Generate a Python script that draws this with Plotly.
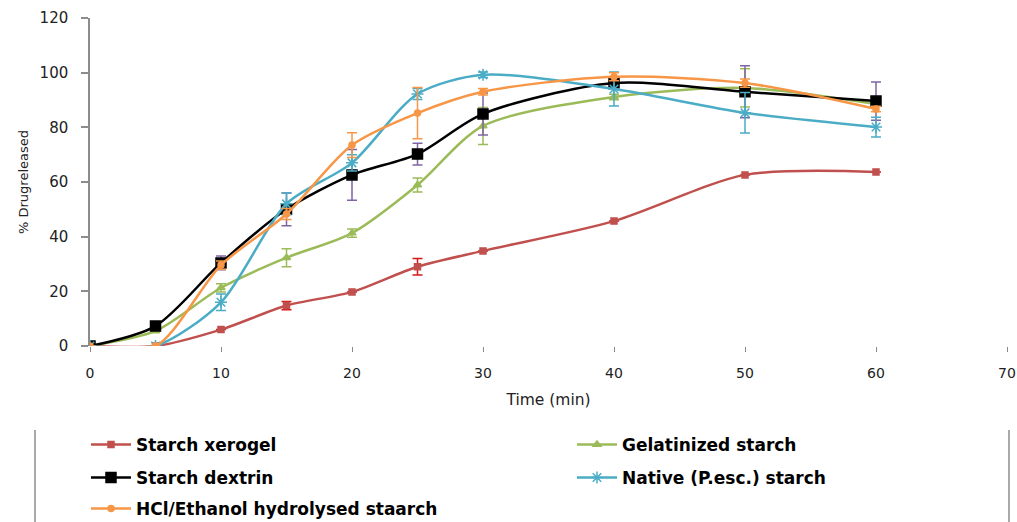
import plotly.graph_objects as go

times = [0, 5, 10, 15, 20, 25, 30, 40, 50, 60]

series_names = ["Starch xerogel", "Gelatinized starch", "Starch dextrin",
                "Native (P.esc.) starch", "HCl/Ethanol hydrolysed staarch"]

xerogel = [0, 0, 6, 14.8, 19.8, 29, 34.8, 45.7, 62.6, 63.7]
xerogel_err = [0, 0, 0, 1.5, 0, 3, 0, 0, 0, 0]

gelatinized = [0, 5.5, 21.3, 32.3, 41.3, 58.9, 80.5, 91.1, 94.4, 88.5]
gelatinized_err = [0, 0, 1.5, 3.3, 1.5, 2.6, 6.8, 1, 7, 0]

dextrin = [0, 7.3, 30.4, 50, 62.6, 70.2, 84.9, 96.2, 93, 89.6]
dextrin_err = [0, 0, 2.5, 6, 9.3, 4, 7.7, 1, 9.5, 7]

native = [0, 0, 16, 52, 67, 92.2, 99.2, 94, 85.3, 80.1]
native_err = [0, 0, 3, 4, 3, 2, 1, 6.2, 7.4, 3.6]

hcl = [0, 0, 29.6, 48.3, 73.5, 85.2, 93, 98.5, 96.2, 86.7]
hcl_err = [0, 0, 1.5, 2, 4.5, 9.4, 1.2, 1.5, 1.5, 1]

x_ticks = [0, 10, 20, 30, 40, 50, 60, 70]
y_ticks = [0, 20, 40, 60, 80, 100, 120]

styles = [
    dict(color="#C0504D", err="#D81818", symbol="square", size=6),
    dict(color="#9BBB59", err="#9BBB59", symbol="triangle-up", size=7),
    dict(color="#000000", err="#8064A2", symbol="square", size=10),
    dict(color="#4BACC6", err="#4BACC6", symbol="asterisk-open", size=10),
    dict(color="#F79646", err="#F79646", symbol="circle", size=6),
]
values = [xerogel, gelatinized, dextrin, native, hcl]
errors = [xerogel_err, gelatinized_err, dextrin_err, native_err, hcl_err]

# body margin is removed by post_script, so figure pixels == page pixels
W, H = 1017, 522
ml, mt = 90, 18
pw, ph = 917, 328
mr = W - ml - pw
mb = H - mt - ph


def px_to_paper_x(px):
    return (px - ml) / pw


def px_to_paper_y(py):
    return (mt + ph - py) / ph


# legend slot (left px, centre-y px) for each series, two columns, row-wise
legend_ids = ["legend", "legend2", "legend3", "legend4", "legend5"]
legend_pos = [(86, 445), (572, 445), (86, 478), (572, 478), (86, 509)]

fig = go.Figure()
for name, vals, errs, st, lid in zip(series_names, values, errors, styles, legend_ids):
    fig.add_trace(go.Scatter(
        x=times, y=vals, name=name, mode="lines+markers",
        line=dict(color=st["color"], width=2.5, shape="spline", smoothing=0.8),
        marker=dict(symbol=st["symbol"], size=st["size"], color=st["color"],
                    line=dict(color=st["color"], width=1.5)),
        error_y=dict(type="data", array=errs, visible=True, color=st["err"],
                     thickness=1.5, width=5),
        legend=lid,
    ))

legend_layout = {}
for lid, (lx, ly) in zip(legend_ids, legend_pos):
    legend_layout[lid] = dict(
        orientation="h", xanchor="left", yanchor="middle",
        x=px_to_paper_x(lx), y=px_to_paper_y(ly),
        font=dict(family="DejaVu Sans", size=17, color="#000000", weight="bold"),
        bgcolor="rgba(0,0,0,0)", itemwidth=40,
    )

fig.update_layout(
    width=W, height=H,
    margin=dict(l=ml, r=mr, t=mt, b=mb, pad=0, autoexpand=False),
    paper_bgcolor="white", plot_bgcolor="white",
    showlegend=True,
    **legend_layout,
    xaxis=dict(
        range=[0, 70], tickvals=x_ticks, ticktext=[str(v) for v in x_ticks],
        showgrid=False, zeroline=False, showline=False, automargin=False,
        ticks="outside", ticklen=5, tickcolor="#888888", tickwidth=1,
        ticklabelstandoff=9, ticklabeloverflow="allow",
        tickfont=dict(family="DejaVu Sans", size=14, color="#222222"),
        title=dict(text="Time (min)", standoff=14,
                   font=dict(family="DejaVu Sans", size=15.5, color="#222222")),
    ),
    yaxis=dict(
        range=[0, 120], tickvals=y_ticks, ticktext=[str(v) for v in y_ticks],
        showgrid=False, zeroline=False, showline=True, linecolor="#8c8c8c",
        linewidth=1.5, automargin=False,
        ticks="outside", ticklen=7, tickcolor="#8c8c8c", tickwidth=1.5,
        ticklabelstandoff=10,
        tickfont=dict(family="DejaVu Sans", size=15, color="#222222"),
        title=dict(text="% Drugreleased", standoff=8,
                   font=dict(family="DejaVu Sans", size=13, color="#222222")),
    ),
    shapes=[
        dict(type="line", xref="paper", yref="paper",
             x0=px_to_paper_x(35), x1=px_to_paper_x(35),
             y0=px_to_paper_y(430), y1=px_to_paper_y(530),
             line=dict(color="#8c8c8c", width=1.5)),
        dict(type="line", xref="paper", yref="paper",
             x0=px_to_paper_x(1009), x1=px_to_paper_x(1009),
             y0=px_to_paper_y(430), y1=px_to_paper_y(530),
             line=dict(color="#8c8c8c", width=1.5)),
    ],
)

fig.write_html(
    "out.html",
    config={"displayModeBar": False},
    post_script="document.body.style.margin='0px';document.body.style.overflow='hidden';",
)
